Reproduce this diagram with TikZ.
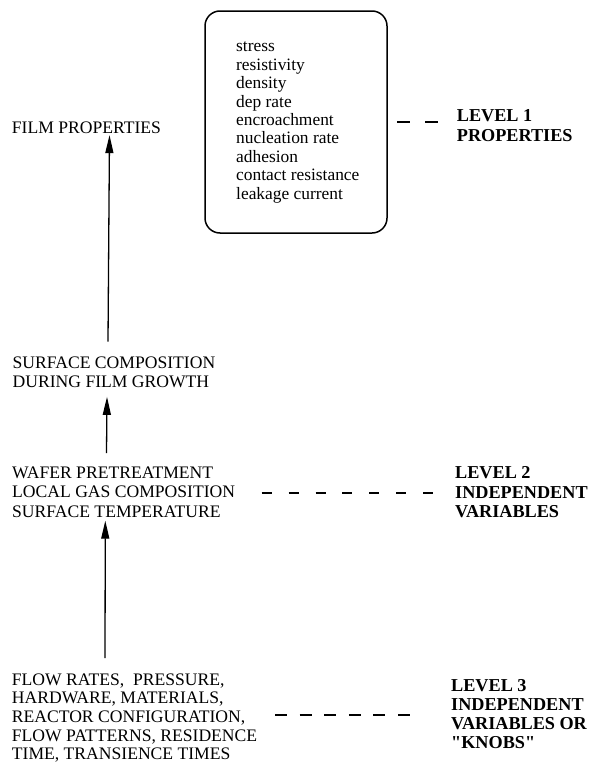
\documentclass[tikz,border=0pt]{standalone}
\usepackage{fontspec}
\setmainfont{Liberation Serif}[Ligatures=TeXOff]
\usetikzlibrary{arrows.meta}
\begin{document}
\begin{tikzpicture}[x=1pt,y=-1pt,
  txt/.style={anchor=north west, inner sep=0pt, align=left, font=\fontsize{17.6}{19.4}\selectfont},
  lvl/.style={anchor=north west, inner sep=0pt, align=left, font=\fontsize{18.2}{19.1}\selectfont\bfseries},
  lst/.style={anchor=north west, inner sep=0pt, align=left, font=\fontsize{17.4}{18.4}\selectfont},
  propbox/.style={draw, line width=1.5pt, rounded corners=15pt, inner sep=0pt},
  arr/.style={line width=1.3pt, -{Triangle[length=18pt,width=8pt]}},
  dl/.style={line width=1.8pt}]
\useasboundingbox (0,0) rectangle (595,763);
\fill[white] (0,0) rectangle (595,763);

% property box
\node[propbox, minimum width=182pt, minimum height=222pt] (box) at (296,122) {};
\node[lst] (props) at (236,42) {stress\\resistivity\\density\\dep rate\\encroachment\\nucleation rate\\adhesion\\contact resistance\\leakage current};

% left column
\node[txt] (film) at (11.7,121.7) {FILM PROPERTIES};
\node[txt] (surf) at (12.5,356.7) {SURFACE COMPOSITION\\DURING FILM GROWTH};
\node[txt] (wafer) at (12,466.7) {WAFER PRETREATMENT\\LOCAL GAS COMPOSITION\\SURFACE TEMPERATURE};
\node[txt, font=\fontsize{17.6}{18.6}\selectfont] (flow) at (11.7,673.5) {FLOW RATES,\ \ PRESSURE,\\HARDWARE, MATERIALS,\\REACTOR CONFIGURATION,\\FLOW PATTERNS, RESIDENCE\\TIME, TRANSIENCE TIMES};

% level labels
\node[lvl, font=\fontsize{18.2}{20.5}\selectfont\bfseries] (l1) at (456.7,109) {LEVEL 1\\PROPERTIES};
\node[lvl, font=\fontsize{18.2}{19.3}\selectfont\bfseries] (l2) at (455,466.7) {LEVEL 2\\INDEPENDENT\\VARIABLES};
\node[lvl] (l3) at (451,679) {LEVEL 3\\INDEPENDENT\\VARIABLES OR\\"KNOBS"};

% arrows
\draw[arr] ([xshift=95.5pt,yshift=15pt]surf.north west) -- ([xshift=97.8pt,yshift=-1.2pt]film.south west);
\draw[arr] ([xshift=94.5pt,yshift=13.7pt]wafer.north west) -- ([xshift=94.5pt,yshift=-8.4pt]surf.south west);
\draw[arr] ([xshift=93.3pt,yshift=15.5pt]flow.north west) -- ([xshift=93.3pt,yshift=-3pt]wafer.south west);

% dashed leaders
\coordinate (d1s) at (397,121.7);
\coordinate (d1e) at (438,121.7);
\coordinate (d2s) at (261.7,493.3);
\coordinate (d2e) at (433.1,493.3);
\coordinate (d3s) at (275,714.7);
\coordinate (d3e) at (410,714.7);
\draw[dl, dash pattern=on 13pt off 15pt] (d1s) -- (d1e);
\draw[dl, dash pattern=on 10pt off 16.9pt] (d2s) -- (d2e);
\draw[dl, dash pattern=on 12pt off 12.6pt] (d3s) -- (d3e);
\end{tikzpicture}
\end{document}
